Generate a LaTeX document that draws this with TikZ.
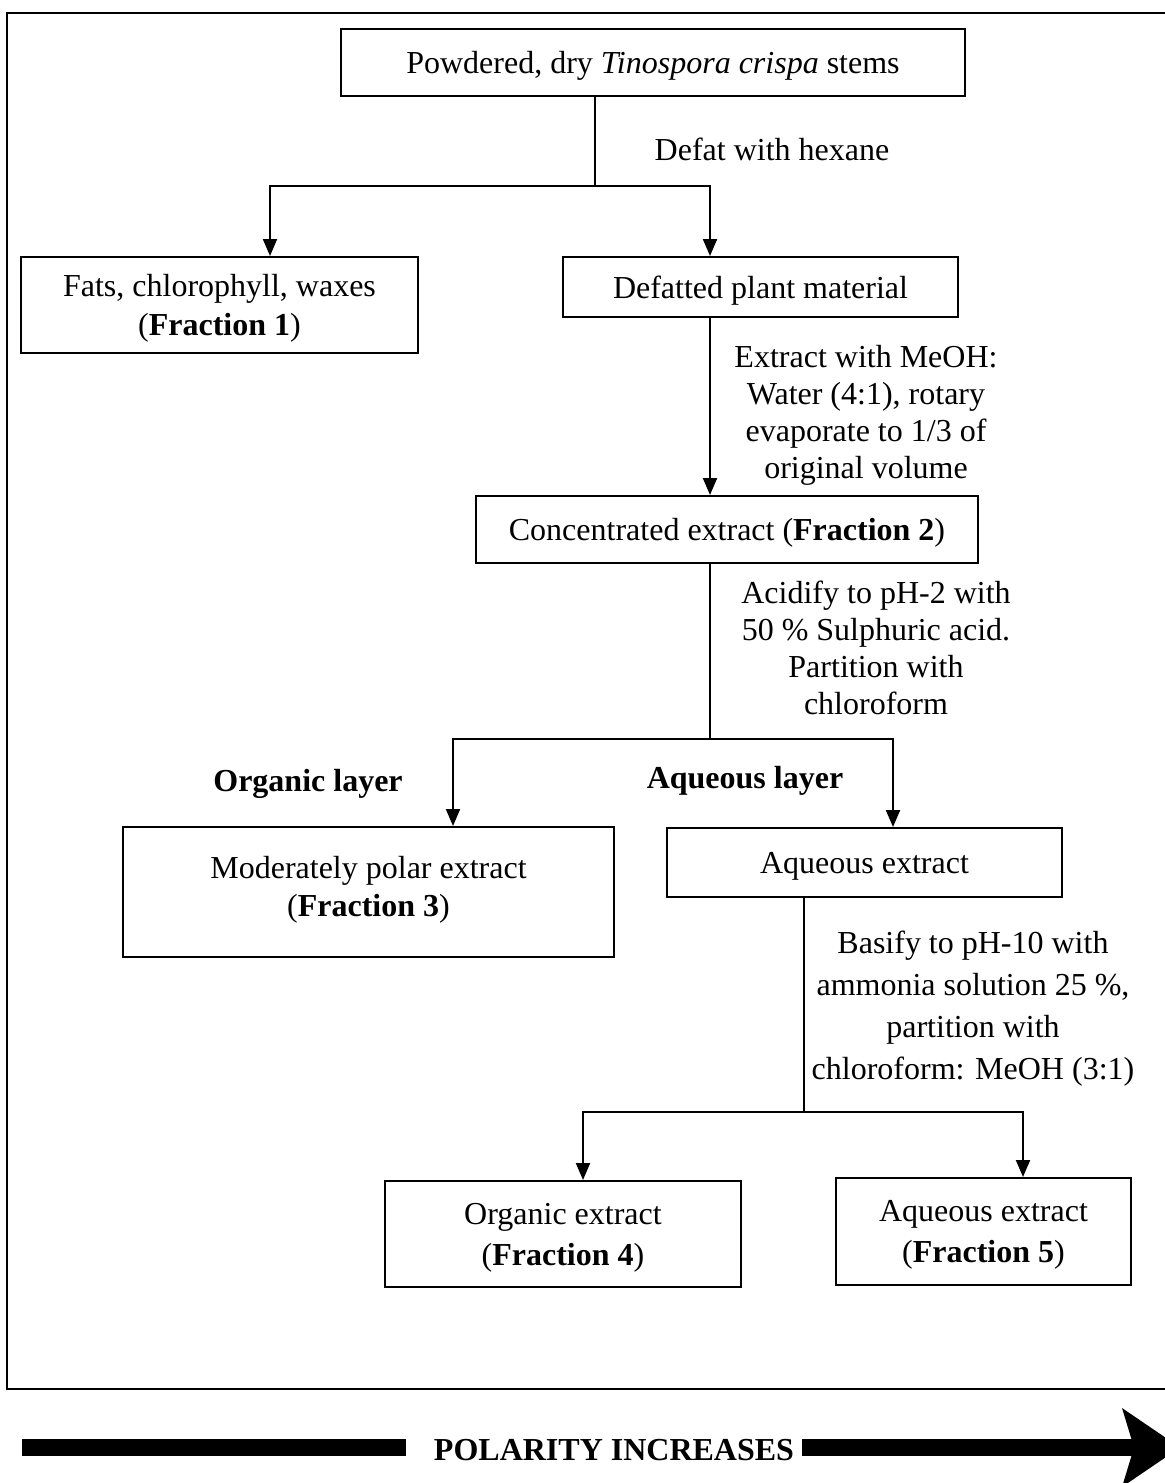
\documentclass[tikz,border=0pt]{standalone}
\usepackage{fontspec}
\setmainfont{Liberation Serif}
\usetikzlibrary{arrows.meta}
\begin{document}
\begin{tikzpicture}[x=0.5pt,y=-0.5pt,
  line width=1pt,
  box/.style={draw, line width=1pt, inner sep=0pt, align=center, text depth=0pt, font=\fontsize{16}{18.5}\selectfont},
  lbl/.style={inner sep=0pt, align=center, font=\fontsize{16}{18.5}\selectfont},
  boldlbl/.style={inner sep=0pt, align=center, font=\bfseries\fontsize{16}{18.5}\selectfont},
  arr/.style={-{Triangle[width=7pt,length=8.5pt]}}]
\useasboundingbox (0,0) rectangle (1165,1483);
% outer frame
\draw (1190,13) -- (7,13) -- (7,1389) -- (1190,1389);

% boxes
\node[box, minimum width=312pt, minimum height=33.5pt] (top) at (653,62.5) {Powdered, dry \textit{Tinospora crispa} stems};
\node[box, minimum width=198.5pt, minimum height=48pt, font=\fontsize{16}{19.5}\selectfont] (f1) at (219.5,305) {Fats, chlorophyll, waxes\\(\textbf{Fraction 1})};
\node[box, minimum width=197.5pt, minimum height=30pt] (def) at (760.5,287) {Defatted plant material};
\node[box, minimum width=251pt, minimum height=33.5pt] (f2) at (727,529.5) {Concentrated extract (\textbf{Fraction 2})};
\node[box, minimum width=245.5pt, minimum height=65pt] (f3) at (368.5,892) {};
\node[lbl, font=\fontsize{16}{19}\selectfont] (f3t) at (368.5,890) {Moderately polar extract\\(\textbf{Fraction 3})};
\node[box, minimum width=197.5pt, minimum height=34.5pt] (aq) at (864.5,862.5) {Aqueous extract};
\node[box, minimum width=178pt, minimum height=53pt, font=\fontsize{16}{20.5}\selectfont] (f4) at (563,1234) {Organic extract\\(\textbf{Fraction 4})};
\node[box, minimum width=147.5pt, minimum height=53.5pt, font=\fontsize{16}{20.5}\selectfont] (f5) at (983.5,1231.5) {Aqueous extract\\(\textbf{Fraction 5})};

% labels
\node[lbl] (l1) at (772,149) {Defat with hexane};
\node[lbl] (l2) at (866,415) {Extract with MeOH:\\Water (4:1), rotary\\evaporate to 1/3 of\\original volume};
\node[lbl] (l3) at (876,648) {Acidify to pH-2 with\\50 \% Sulphuric acid.\\Partition with\\chloroform};
\node[boldlbl] (l4) at (308,784) {Organic layer};
\node[boldlbl] (l5) at (745,781) {Aqueous layer};
\node[lbl, font=\fontsize{16}{21}\selectfont] (l6) at (973,1008.5) {Basify to pH-10 with\\ammonia solution 25 \%,\\partition with\\chloroform: MeOH (3:1)};

% connectors
\coordinate (j1) at (595,186);
\coordinate (j1L) at (270,186);
\coordinate (j1R) at (710,186);
\draw (top.south -| j1) -- (j1);
\draw[arr] (j1) -- (j1L) -- (f1.north -| j1L);
\draw[arr] (j1) -- (j1R) -- (def.north -| j1R);

\coordinate (x2) at (710,400);
\draw[arr] (def.south -| x2) -- (f2.north -| x2);

\coordinate (j3) at (710,739);
\coordinate (j3L) at (453,739);
\coordinate (j3R) at (893,739);
\draw (f2.south -| j3) -- (j3);
\draw[arr] (j3) -- (j3L) -- (f3.north -| j3L);
\draw[arr] (j3) -- (j3R) -- (aq.north -| j3R);

\coordinate (j4) at (804,1112);
\coordinate (j4L) at (583,1112);
\coordinate (j4R) at (1023,1112);
\draw (aq.south -| j4) -- (j4);
\draw[arr] (j4) -- (j4L) -- (f4.north -| j4L);
\draw[arr] (j4) -- (j4R) -- (f5.north -| j4R);

% polarity arrow
\node[boldlbl] (pol) at (614,1450) {POLARITY INCREASES};
\fill (22,1439) rectangle (406,1456);
\fill (802,1439) rectangle (1136,1456);
\fill (1122,1408) -- (1180,1447.5) -- (1122,1487) -- (1134,1447.5) -- cycle;
\end{tikzpicture}
\end{document}
